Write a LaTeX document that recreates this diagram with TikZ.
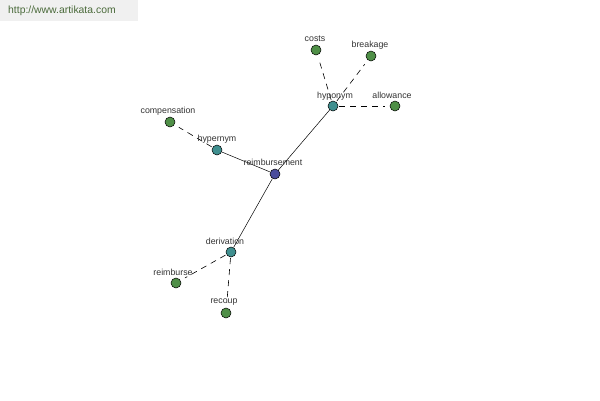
\documentclass[tikz,border=0pt]{standalone}
\usepackage{fontspec}
\setmainfont{Liberation Sans}
\begin{document}
\begin{tikzpicture}[x=1pt,y=-1pt,
  dot/.style={circle,draw=black,line width=0.5pt,minimum size=10pt,inner sep=0pt},
  rootdot/.style={dot,fill=rootc},
  middot/.style={dot,fill=midc},
  leafdot/.style={dot,fill=leafc},
  lbl/.style={font=\fontsize{8.8}{9}\selectfont,text=black!80,inner sep=0pt},
  solidedge/.style={draw=black,line width=0.5pt},
  dashedge/.style={draw=black,line width=0.6pt,dash pattern=on 6pt off 5pt,shorten <=1pt,shorten >=5pt}]
\definecolor{rootc}{HTML}{4B4D9C}
\definecolor{midc}{HTML}{3F8F8F}
\definecolor{leafc}{HTML}{4F8F47}
\definecolor{wmbg}{HTML}{F0F0F0}
\definecolor{wmtext}{HTML}{4A6A3A}
\useasboundingbox (0,0) rectangle (600,400);
\fill[white] (0,0) rectangle (600,400);
\fill[wmbg] (0,0) rectangle (138,21);
\node[font=\fontsize{10.4}{11}\selectfont,text=wmtext,anchor=west,inner sep=0pt] (wm) at (8,11) {http://www.artikata.com};
% nodes
\node[rootdot] (reimb) at (275,174) {};
\node[middot] (hyper) at (217,150) {};
\node[middot] (hypo) at (333,106) {};
\node[middot] (deriv) at (231,252) {};
\node[leafdot] (comp) at (170,122) {};
\node[leafdot] (costs) at (316,50) {};
\node[leafdot] (break) at (371,56) {};
\node[leafdot] (allow) at (395,106) {};
\node[leafdot] (reimburse) at (176,283) {};
\node[leafdot] (recoup) at (226,313) {};
% edges
\draw[solidedge] (reimb) -- (hyper);
\draw[solidedge] (reimb) -- (hypo);
\draw[solidedge] (reimb) -- (deriv);
\draw[dashedge] (hyper) -- (comp);
\draw[dashedge] (hypo) -- (costs);
\draw[dashedge] (hypo) -- (break);
\draw[dashedge] (hypo) -- (allow);
\draw[dashedge] (deriv) -- (reimburse);
\draw[dashedge] (deriv) -- (recoup);
% labels
\node[lbl] (l-reimb) at (273,162) {reimbursement};
\node[lbl] (l-hyper) at (217,139) {hypernym};
\node[lbl] (l-hypo) at (335,96) {hyponym};
\node[lbl] (l-deriv) at (225,241) {derivation};
\node[lbl] (l-comp) at (168,111) {compensation};
\node[lbl] (l-costs) at (315,39) {costs};
\node[lbl] (l-break) at (370,45) {breakage};
\node[lbl] (l-allow) at (392,95) {allowance};
\node[lbl] (l-reimburse) at (173,272) {reimburse};
\node[lbl] (l-recoup) at (224,302) {recoup};
\end{tikzpicture}
\end{document}
